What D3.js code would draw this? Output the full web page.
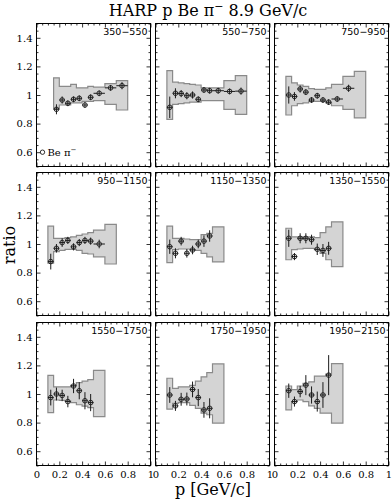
<!DOCTYPE html>
<html>
<head>
<meta charset="utf-8">
<script src="https://cdn.jsdelivr.net/npm/d3@7"></script>
<style>
body { margin: 0; background: #fff; }
svg { display: block; }
</style>
</head>
<body>
<div id="chart"></div>
<script>
// Global Variables :
var width = 392,
    height = 499;

var col_left = [36.5, 155.5, 274.5],
    row_top = [23.5, 172.5, 322.5],
    panel_w = 114,
    panel_h = 143;

var serif = "'DejaVu Serif', serif",
    sans = "'DejaVu Sans', sans-serif";

// Data
var panel_titles = ["350\u2212550", "550\u2212750", "750\u2212950",
                    "950\u22121150", "1150\u22121350", "1350\u22121550",
                    "1550\u22121750", "1750\u22121950", "1950\u22122150"];

var x_ticks_major = [0, 0.2, 0.4, 0.6, 0.8, 1];
var y_ticks_major = [0.6, 0.8, 1, 1.2, 1.4];

var edges_350 = [0.15, 0.2, 0.25, 0.3, 0.35, 0.4, 0.45, 0.5, 0.6, 0.7, 0.8];
var edges_550 = [0.1, 0.15, 0.2, 0.25, 0.3, 0.35, 0.4, 0.45, 0.5, 0.6, 0.7, 0.8];
var edges_950 = [0.1, 0.15, 0.2, 0.25, 0.3, 0.35, 0.4, 0.45, 0.5, 0.6, 0.7];
var edges_1150 = [0.1, 0.15, 0.2, 0.25, 0.3, 0.35, 0.4, 0.45, 0.5, 0.6];

// systematic band, upper / lower per bin
var band_hi = [
  [1.12, 1.06, 1.06, 1.075, 1.05, 1.05, 1.06, 1.055, 1.08, 1.10],
  [1.17, 1.09, 1.085, 1.08, 1.075, 1.07, 1.05, 1.05, 1.05, 1.10, 1.135],
  [1.13, 1.085, 1.07, 1.06, 1.045, 1.04, 1.04, 1.05, 1.075, 1.13, 1.165],
  [1.125, 1.04, 1.04, 1.045, 1.05, 1.06, 1.07, 1.08, 1.097, 1.137],
  [1.125, 1.04, 1.04, 1.035, 1.03, 1.03, 1.065, 1.075, 1.12],
  [1.11, 1.05, 1.05, 1.05, 1.05, 1.045, 1.08, 1.12, 1.155],
  [1.13, 1.05, 1.05, 1.05, 1.06, 1.08, 1.09, 1.10, 1.165],
  [1.11, 1.04, 1.05, 1.05, 1.06, 1.09, 1.12, 1.15, 1.21],
  [1.056, 1.03, 1.056, 1.074, 1.085, 1.125, 1.125, 1.14, 1.213]
];
var band_lo = [
  [0.905, 0.93, 0.93, 0.945, 0.945, 0.955, 0.955, 0.96, 0.935, 0.895],
  [0.83, 0.935, 0.94, 0.945, 0.95, 0.95, 0.96, 0.96, 0.96, 0.90, 0.865],
  [0.86, 0.925, 0.94, 0.945, 0.955, 0.955, 0.955, 0.945, 0.925, 0.90, 0.84],
  [0.866, 0.947, 0.955, 0.963, 0.963, 0.955, 0.935, 0.93, 0.91, 0.86],
  [0.87, 0.96, 0.965, 0.965, 0.96, 0.955, 0.935, 0.91, 0.875],
  [0.89, 0.96, 0.965, 0.97, 0.97, 0.96, 0.935, 0.89, 0.842],
  [0.87, 0.958, 0.955, 0.95, 0.94, 0.925, 0.915, 0.905, 0.842],
  [0.894, 0.935, 0.94, 0.94, 0.92, 0.90, 0.866, 0.855, 0.797],
  [0.889, 0.947, 0.958, 0.947, 0.917, 0.90, 0.866, 0.866, 0.797]
];

// measured ratio and its error, one per bin from the first bin on
var ratio = [
  [0.90, 0.965, 0.942, 0.97, 0.977, 0.93, 0.984, 1.012, 1.05, 1.065],
  [0.914, 1.012, 1.01, 0.995, 1.0, 0.97, 1.035, 1.03, 1.03, 1.025, 1.027],
  [1.0, 0.99, 1.042, 1.02, 0.965, 0.995, 0.965, 0.95, 0.972, 1.047],
  [0.877, 0.97, 1.01, 1.025, 0.98, 1.01, 1.025, 1.02, 1.0],
  [0.981, 0.935, 1.02, 0.935, 0.958, 1.0, 1.02, 1.056],
  [1.04, 0.912, 1.04, 1.04, 1.03, 0.963, 0.955, 0.97],
  [0.975, 1.0, 0.99, 0.947, 1.056, 1.023, 0.953, 0.94],
  [0.993, 0.917, 0.963, 0.965, 1.032, 0.975, 0.889, 0.90],
  [1.023, 0.947, 1.017, 1.062, 0.993, 0.947, 0.993, 1.132]
];
var ratio_err = [
  [0.035, 0.025, 0.02, 0.02, 0.02, 0.02, 0.02, 0.02, 0.02, 0.025],
  [0.075, 0.035, 0.025, 0.025, 0.025, 0.02, 0.02, 0.02, 0.02, 0.02, 0.025],
  [0.06, 0.03, 0.025, 0.02, 0.02, 0.02, 0.02, 0.02, 0.02, 0.025],
  [0.055, 0.03, 0.03, 0.025, 0.025, 0.025, 0.025, 0.025, 0.03],
  [0.05, 0.035, 0.03, 0.03, 0.03, 0.03, 0.04, 0.04],
  [0.06, 0.025, 0.035, 0.035, 0.035, 0.04, 0.045, 0.045],
  [0.055, 0.045, 0.04, 0.04, 0.05, 0.06, 0.06, 0.06],
  [0.055, 0.035, 0.045, 0.045, 0.055, 0.06, 0.055, 0.07],
  [0.05, 0.035, 0.04, 0.07, 0.06, 0.07, 0.09, 0.14]
];

var panel_edges = [edges_350, edges_550, edges_550,
                   edges_950, edges_1150, edges_1150,
                   edges_1150, edges_1150, edges_1150];

var svg = d3.select("#chart").append("svg")
  .attr("width", width)
  .attr("height", height);

var x = d3.scaleLinear().domain([0, 1]).range([0, panel_w]);
var y = d3.scaleLinear().domain([0.5, 1.5]).range([panel_h, 0]);

var x_minor = d3.range(0, 1.0001, 0.05).filter(function(v) { return Math.abs(v * 5 - Math.round(v * 5)) > 1e-6; });
var y_minor = d3.range(0.5, 1.5001, 0.05).filter(function(v) { return Math.abs(v * 5 - Math.round(v * 5)) > 1e-6; });

var fmt = d3.format("~g");

function style_axis(g) {
  g.select(".domain").remove();
  g.selectAll("line").attr("stroke", "#000").attr("stroke-width", 0.8);
  g.selectAll("text").attr("fill", "#000").attr("font-family", serif).attr("font-size", 10);
}

function draw_panel(i) {
  var col = i % 3, row = Math.floor(i / 3);
  var edges = panel_edges[i];
  var hi = band_hi[i], lo = band_lo[i];

  var g = svg.append("g")
    .attr("transform", "translate(" + col_left[col] + "," + row_top[row] + ")");

  // band
  var band_pts = edges.map(function(e, k) {
    var j = Math.min(k, hi.length - 1);
    return { p: e, hi: hi[j], lo: lo[j] };
  });
  var area = d3.area()
    .curve(d3.curveStepAfter)
    .x(function(d) { return x(d.p); })
    .y0(function(d) { return y(d.lo); })
    .y1(function(d) { return y(d.hi); });
  g.append("path")
    .datum(band_pts)
    .attr("d", area)
    .attr("fill", "#d4d4d4")
    .attr("stroke", "#8a8a8a")
    .attr("stroke-width", 1.2);

  // data points
  var pts = ratio[i].map(function(r, k) {
    return { p0: edges[k], p1: edges[k + 1], r: r, e: ratio_err[i][k] };
  });
  var pg = g.selectAll(".pt").data(pts).enter().append("g").attr("class", "pt");
  pg.append("line")
    .attr("x1", function(d) { return x(d.p0); })
    .attr("x2", function(d) { return x(d.p1); })
    .attr("y1", function(d) { return y(d.r); })
    .attr("y2", function(d) { return y(d.r); });
  pg.append("line")
    .attr("x1", function(d) { return x((d.p0 + d.p1) / 2); })
    .attr("x2", function(d) { return x((d.p0 + d.p1) / 2); })
    .attr("y1", function(d) { return y(d.r - d.e); })
    .attr("y2", function(d) { return y(d.r + d.e); });
  pg.selectAll("line").attr("stroke", "#1a1a1a").attr("stroke-width", 1);
  pg.append("circle")
    .attr("cx", function(d) { return x((d.p0 + d.p1) / 2); })
    .attr("cy", function(d) { return y(d.r); })
    .attr("r", 2.3)
    .attr("fill", "none")
    .attr("stroke", "#1a1a1a")
    .attr("stroke-width", 0.9);

  // axes, ticks inside on all four sides
  var bottom = g.append("g").attr("transform", "translate(0," + panel_h + ")")
    .call(d3.axisBottom(x).tickValues(x_ticks_major).tickSize(-4).tickPadding(5)
      .tickFormat(row == 2 ? fmt : ""));
  style_axis(bottom);
  style_axis(g.append("g").attr("transform", "translate(0," + panel_h + ")")
    .call(d3.axisBottom(x).tickValues(x_minor).tickSize(-2).tickFormat("")));
  style_axis(g.append("g").call(d3.axisTop(x).tickValues(x_ticks_major).tickSize(-4).tickFormat("")));
  style_axis(g.append("g").call(d3.axisTop(x).tickValues(x_minor).tickSize(-2).tickFormat("")));

  var left = g.append("g")
    .call(d3.axisLeft(y).tickValues(y_ticks_major).tickSize(-4).tickPadding(4)
      .tickFormat(col == 0 ? fmt : ""));
  style_axis(left);
  style_axis(g.append("g").call(d3.axisLeft(y).tickValues(y_minor).tickSize(-2).tickFormat("")));
  style_axis(g.append("g").attr("transform", "translate(" + panel_w + ",0)")
    .call(d3.axisRight(y).tickValues(y_ticks_major).tickSize(-4).tickFormat("")));
  style_axis(g.append("g").attr("transform", "translate(" + panel_w + ",0)")
    .call(d3.axisRight(y).tickValues(y_minor).tickSize(-2).tickFormat("")));

  g.append("rect")
    .attr("width", panel_w)
    .attr("height", panel_h)
    .attr("fill", "none")
    .attr("stroke", "#000")
    .attr("stroke-width", 1);

  g.append("text")
    .attr("x", panel_w - 3)
    .attr("y", 11)
    .attr("text-anchor", "end")
    .attr("font-family", sans)
    .attr("font-size", 9.5)
    .text(panel_titles[i]);

  if (i == 0) {
    g.append("circle")
      .attr("cx", 6).attr("cy", y(0.6))
      .attr("r", 2.2)
      .attr("fill", "none").attr("stroke", "#000").attr("stroke-width", 0.8);
    var leg = g.append("text")
      .attr("x", 11).attr("y", y(0.6) + 3.5)
      .attr("font-family", serif).attr("font-size", 10)
      .text("Be \u03c0");
    leg.append("tspan").attr("dy", -4).attr("font-size", 7).text("\u2212");
  }
}

for (var i = 0; i < 9; i++) {
  draw_panel(i);
}

// Title
var title = svg.append("text")
  .attr("x", 208).attr("y", 16)
  .attr("text-anchor", "middle")
  .attr("font-family", serif)
  .attr("font-size", 16);
title.append("tspan").text("HARP p Be \u03c0");
title.append("tspan").attr("dy", -6).attr("font-size", 11).text("\u2212");
title.append("tspan").attr("dy", 6).text(" 8.9 GeV/c");

svg.append("text")
  .attr("transform", "translate(15,245) rotate(-90)")
  .attr("text-anchor", "middle")
  .attr("font-family", serif)
  .attr("font-size", 16)
  .text("ratio");

svg.append("text")
  .attr("x", 213).attr("y", 495)
  .attr("text-anchor", "middle")
  .attr("font-family", serif)
  .attr("font-size", 16)
  .text("p [GeV/c]");
</script>
</body>
</html>
